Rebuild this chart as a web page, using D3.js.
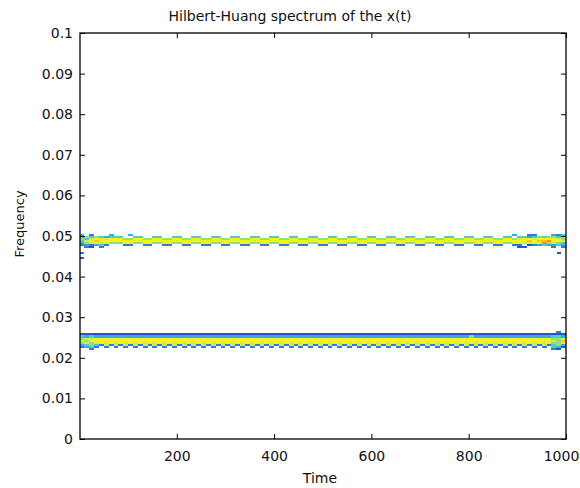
<!DOCTYPE html>
<html><head><meta charset="utf-8">
<script src="https://cdn.jsdelivr.net/npm/d3@7"></script>
<style>
body{margin:0;background:#fff}
text{font-family:"DejaVu Sans",Arial,Helvetica,sans-serif;fill:#111}
</style>
</head><body>
<svg id="chart" width="580" height="488"></svg>
<script>
// ---------- data ----------
const titleText = "Hilbert-Huang spectrum of the x(t)";
const xLabelText = "Time";
const yLabelText = "Frequency";
const timeDomain = [1, 1000];
const freqDomain = [0, 0.1];
const xTickValues = [200, 400, 600, 800, 1000];
const yTickValues = [0, 0.01, 0.02, 0.03, 0.04, 0.05, 0.06, 0.07, 0.08, 0.09, 0.1];
const colStep = 10;        // time units per spectrum column
const binHeight = 0.0005;  // frequency bin height

// amplitude levels (0 = empty) per frequency bin, one char per time column (spaces only for reading)
const upperBins = [0.0500, 0.0495, 0.0490, 0.0485, 0.0480, 0.0475, 0.0470];
const upperCells = [
 "3020003000 3000000000 0000000000 0000000000 0000000000 0000000000 0000000000 0000000000 0000000003 0022000324",
 "4545434440 0440044004 4004400440 0440044004 4004400440 0440044004 4004400440 0440044004 4004400440 4434545545",
 "5467667775 5775577557 7557755775 5775577557 7557755775 5775577557 7557755775 5775577557 7557755775 6776777765",
 "4678777777 7777777777 7777777777 7777777777 7777777777 7777777777 7777777777 7777777777 7777777777 7787889776",
 "3567675557 7557755775 5775577557 7557755775 5775577557 7557755775 5775577557 7557755775 5775577557 7667798654",
 "2323420002 2002200220 0220022002 2002200220 0220022002 2002200220 0220022002 2002200220 0220022002 2012343343",
 "0210200000 0000000000 0000000000 0000000000 0000000000 0000000000 0000000000 0000000000 0000000000 1100000202"
];
const lowerBins = [0.0260, 0.0255, 0.0250, 0.0245, 0.0240, 0.0235, 0.0230, 0.0225, 0.0220];
const lowerCells = [
 "0000000000 0000000000 0000000000 0000000000 0000000000 0000000000 0000000000 0000000000 0000000000 0000000020",
 "1111111111 1111111111 1111111111 1111111111 1111111111 1111111111 1111111111 1111111111 1111111111 1111111111",
 "4343333333 3333333333 3333333333 3333333333 3333333333 3333333333 3333333333 3333333333 5333333333 3333333443",
 "5667777777 7777777777 7777777777 7777777777 7777777777 7777777777 7777777777 7777777777 7777777777 7777777557",
 "6577777777 7777777777 7777777777 7777777777 7777777777 7777777777 7777777777 7777777777 7777777777 7777777658",
 "5656767676 7676767676 7676767676 7676767676 7676767676 7676767676 7676767676 7676767676 7676767676 7676767557",
 "3454262626 2626262626 2626262626 2626262626 2626262626 2626262626 2626262626 2626262626 2626262626 2626262453",
 "2342020202 0202020202 0202020202 0202020202 0202020202 0202020202 0202020202 0202020202 0202020202 0202020431",
 "0020000000 0000000000 0000000000 0000000000 0000000000 0000000000 0000000000 0000000000 0000000000 0000000210"
];
// isolated points [time, frequency, level]
const speckles = [[5, 0.0458, 2], [5, 0.0446, 1], [985, 0.0459, 1]];
const levelColors = ["none", "#2456cc", "#2c7ce0", "#3aa8e6", "#52cac8", "#92e07a", "#d6ec42", "#f2f21c", "#f8c822", "#f09022"];

// ---------- layout ----------
const plot = {left: 80, right: 566, top: 33, bottom: 439};
const svg = d3.select("#chart");
const x = d3.scaleLinear().domain(timeDomain).range([plot.left, plot.right]);
const y = d3.scaleLinear().domain(freqDomain).range([plot.bottom, plot.top]);

// ---------- cells ----------
function buildCells(bins, rows) {
  const out = [];
  bins.forEach((f, r) => {
    const s = rows[r].replace(/ /g, "");
    for (let i = 0; i < s.length; i++) {
      const lv = +s[i];
      if (!lv) continue;
      out.push({t0: Math.max(timeDomain[0], i * colStep), t1: Math.min(timeDomain[1], (i + 1) * colStep), f0: f, f1: f + binHeight, lv});
    }
  });
  return out;
}
const cells = buildCells(upperBins, upperCells).concat(buildCells(lowerBins, lowerCells))
  .concat(speckles.map(([t, f, lv]) => ({t0: t - 4, t1: t + 4, f0: f - binHeight / 2, f1: f + binHeight / 2, lv})));

svg.append("defs").append("clipPath").attr("id", "pc")
  .append("rect").attr("x", plot.left).attr("y", plot.top)
  .attr("width", plot.right - plot.left).attr("height", plot.bottom - plot.top);

svg.append("g").attr("clip-path", "url(#pc)").attr("shape-rendering", "crispEdges")
  .selectAll("rect").data(cells).join("rect")
  .attr("x", d => x(d.t0)).attr("width", d => x(d.t1) - x(d.t0))
  .attr("y", d => y(d.f1)).attr("height", d => y(d.f0) - y(d.f1))
  .attr("fill", d => levelColors[d.lv]);

// ---------- axes ----------
const fs = 14;
const axB = svg.append("g").attr("transform", `translate(0,${plot.bottom})`)
  .call(d3.axisBottom(x).tickValues(xTickValues).tickSize(-5).tickPadding(12).tickFormat(d3.format("d")));
const axT = svg.append("g").attr("transform", `translate(0,${plot.top})`)
  .call(d3.axisTop(x).tickValues(xTickValues).tickSize(-5).tickFormat(""));
const axL = svg.append("g").attr("transform", `translate(${plot.left},0)`)
  .call(d3.axisLeft(y).tickValues(yTickValues).tickSize(-5).tickPadding(7).tickFormat(d => String(d)));
const axR = svg.append("g").attr("transform", `translate(${plot.right},0)`)
  .call(d3.axisRight(y).tickValues(yTickValues).tickSize(-5).tickFormat(""));
[axB, axT, axL, axR].forEach(g => {
  g.select(".domain").remove();
  g.selectAll("line").attr("stroke", "#000").attr("stroke-width", 1);
  g.selectAll("text").style("font-size", fs + "px").attr("fill", "#111")
    .style("font-family", '"DejaVu Sans", Arial, sans-serif');
});
// keep the last time label inside the window
axB.selectAll("text").filter(d => d === timeDomain[1]).attr("dx", -5);

svg.append("rect").attr("x", plot.left).attr("y", plot.top)
  .attr("width", plot.right - plot.left).attr("height", plot.bottom - plot.top)
  .attr("fill", "none").attr("stroke", "#000").attr("stroke-width", 1.3);

// ---------- labels ----------
svg.append("text").attr("x", 290).attr("y", 21)
  .attr("text-anchor", "middle").style("font-size", fs + "px").text(titleText);
svg.append("text").attr("x", 320).attr("y", 483)
  .attr("text-anchor", "middle").style("font-size", fs + "px").text(xLabelText);
svg.append("text").attr("transform", `translate(24,224) rotate(-90)`)
  .attr("text-anchor", "middle").style("font-size", "13px").text(yLabelText);
</script>
</body></html>
